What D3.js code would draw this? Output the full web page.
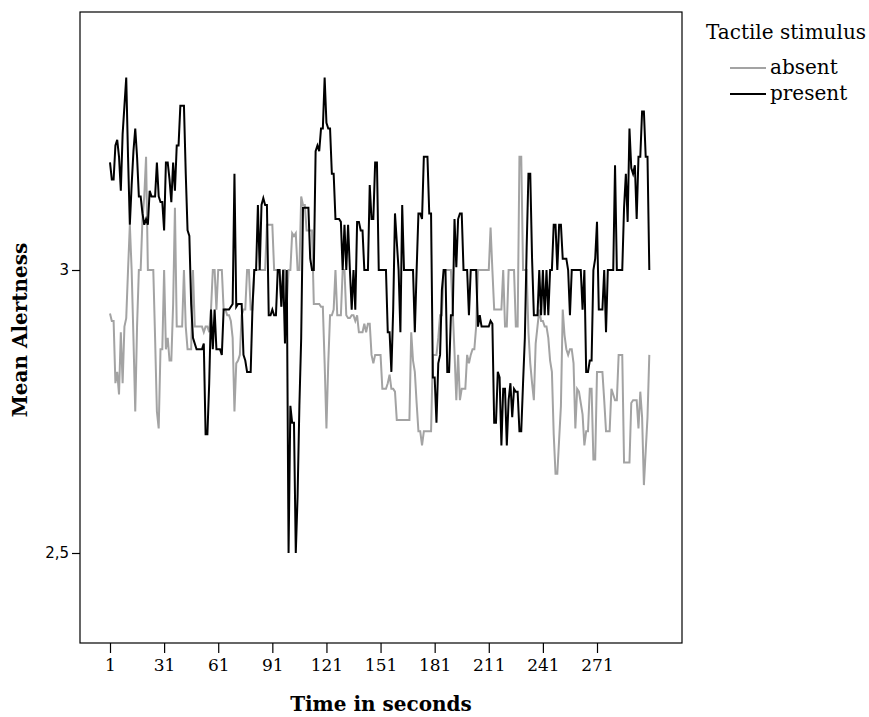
<!DOCTYPE html>
<html>
<head>
<meta charset="utf-8">
<script src="https://cdn.jsdelivr.net/npm/d3@7"></script>
<style>
  body { margin: 0; background: #fff; }
  text { font-family: "DejaVu Serif", "Liberation Serif", serif; }
</style>
</head>
<body>
<svg id="chart" width="869" height="717"></svg>
<script>
// mean alertness per second
var present = [
  3.19,3.16,3.16,3.22,3.23,3.20,3.14,3.24,3.29,3.34,
  3.20,3.08,3.15,3.21,3.25,3.20,3.13,3.13,3.10,3.08,
  3.09,3.08,3.14,3.13,3.13,3.13,3.19,3.13,3.12,3.12,
  3.07,3.19,3.19,3.16,3.12,3.19,3.14,3.22,3.22,3.29,
  3.29,3.29,3.17,3.07,3.06,2.94,2.88,2.87,2.86,2.86,
  2.86,2.86,2.87,2.71,2.71,2.80,2.93,2.86,2.93,2.86,
  2.86,2.86,2.85,2.93,2.93,2.93,2.93,2.935,2.94,3.17,
  2.935,2.94,2.94,2.94,2.85,2.84,2.82,2.82,2.82,2.935,
  3.0,3.0,3.115,3.0,3.115,3.127,3.115,3.115,2.92,2.92,
  2.93,2.92,2.92,3.0,3.0,2.935,3.0,2.87,3.0,2.5,
  2.76,2.73,2.73,2.5,2.6,2.76,2.88,3.11,3.11,3.11,
  3.11,3.02,3.0,3.0,3.21,3.22,3.21,3.25,3.25,3.34,
  3.26,3.25,3.25,3.17,3.17,3.09,3.09,3.09,3.085,3.0,
  3.08,3.0,3.08,3.0,2.93,3.0,2.93,3.085,3.085,3.07,
  3.07,3.0,3.0,3.0,3.15,3.09,3.09,3.19,3.19,3.0,
  3.0,3.0,3.0,3.0,2.89,2.89,2.82,2.93,3.10,3.05,
  3.0,2.89,3.115,3.0,3.0,3.0,3.0,3.0,3.0,2.89,
  3.0,3.10,3.10,3.09,3.20,3.20,3.20,3.10,3.10,2.81,
  2.81,2.73,2.835,2.85,2.965,3.0,3.0,2.82,2.82,2.92,
  2.92,3.09,3.005,3.09,3.10,3.10,3.0,3.0,3.0,2.92,
  3.0,3.0,3.0,3.0,2.90,2.92,2.90,2.90,2.90,2.90,
  2.90,2.91,2.905,2.73,2.73,2.82,2.81,2.69,2.79,2.79,
  2.69,2.77,2.80,2.74,2.79,2.785,2.785,2.715,2.715,2.80,
  2.88,3.04,3.17,3.17,3.02,2.92,2.92,2.92,3.0,2.92,
  3.0,2.92,3.0,2.92,3.0,3.0,3.08,3.08,3.0,3.08,
  3.08,3.02,3.02,3.02,3.0,2.92,3.0,3.0,3.0,3.0,
  3.0,3.0,2.93,3.0,2.82,2.82,2.84,2.84,3.0,3.02,
  3.085,2.93,2.93,2.93,3.0,2.89,3.0,3.0,3.0,3.0,
  3.185,3.0,3.0,3.0,3.0,3.11,3.17,3.085,3.25,3.18,
  3.17,3.185,3.09,3.20,3.20,3.28,3.28,3.20,3.20,3.0
];

var absent = [
  2.923,2.91,2.91,2.80,2.82,2.78,2.89,2.80,2.90,2.915,
  3.0,3.08,3.0,2.88,2.75,2.90,3.0,3.0,3.09,3.13,
  3.20,3.0,3.0,3.0,3.0,2.88,2.75,2.72,2.86,2.86,
  3.0,2.86,2.88,2.84,2.84,2.94,3.11,2.90,2.90,2.90,
  2.90,3.0,2.90,2.86,2.86,2.86,3.0,2.90,2.90,2.90,
  2.90,2.90,2.89,2.90,2.90,2.89,2.93,3.0,3.0,2.93,
  3.0,3.0,3.0,2.93,2.93,2.92,2.92,2.91,2.88,2.75,
  2.835,2.84,2.85,2.92,2.93,2.93,3.0,3.0,2.93,2.93,
  3.0,3.0,3.0,3.0,3.0,3.0,3.0,3.08,3.08,3.08,
  3.08,3.0,3.0,3.0,3.0,2.935,3.0,3.0,2.94,3.0,
  3.0,3.065,3.06,3.065,3.0,3.0,3.13,3.115,3.115,3.07,
  3.07,3.07,3.07,2.94,2.94,2.94,2.94,2.935,2.935,2.835,
  2.72,2.835,2.92,2.92,2.93,3.0,2.92,2.92,2.92,3.0,
  3.0,2.92,2.915,2.915,2.92,2.92,2.91,2.92,2.89,2.89,
  2.89,2.905,2.89,2.905,2.905,2.85,2.835,2.85,2.85,2.85,
  2.85,2.79,2.79,2.79,2.80,2.815,2.79,2.79,2.785,2.735,
  2.735,2.735,2.735,2.735,2.735,2.735,2.735,2.89,2.84,2.82,
  2.765,2.715,2.715,2.69,2.715,2.715,2.715,2.715,2.715,2.85,
  2.85,2.85,2.88,2.92,2.92,3.0,3.0,3.0,3.0,3.0,
  2.93,2.855,2.77,2.85,2.77,2.79,2.79,2.79,2.85,2.835,
  2.85,2.86,2.86,2.90,3.0,3.0,3.0,3.0,3.0,3.0,
  3.0,3.075,3.0,2.93,2.93,2.93,2.93,2.93,3.0,2.90,
  2.90,3.0,3.0,3.0,3.0,2.90,2.90,3.20,3.20,3.0,
  3.0,3.0,2.89,2.835,2.80,2.77,2.87,2.90,2.93,2.91,
  2.91,2.90,2.90,2.88,2.84,2.82,2.71,2.64,2.64,2.70,
  2.76,2.93,2.885,2.86,2.85,2.86,2.86,2.835,2.72,2.79,
  2.785,2.765,2.745,2.69,2.715,2.715,2.79,2.79,2.665,2.665,
  2.82,2.82,2.82,2.82,2.77,2.715,2.715,2.715,2.79,2.78,
  2.77,2.77,2.85,2.85,2.85,2.66,2.66,2.66,2.66,2.765,
  2.77,2.77,2.77,2.72,2.785,2.74,2.62,2.68,2.74,2.85
];

var xTicks = [1, 31, 61, 91, 121, 151, 181, 211, 241, 271];
var yTicks = [2.5, 3];
var seriesNames = ["absent", "present"];
var seriesColors = ["#a3a3a3", "#000000"];

var svg = d3.select("#chart");
var frameL = 80, frameR = 682, frameT = 12, frameB = 643;

// scales: tick 1 -> 110, tick 271 -> 597 ; 3 -> 270, 2.5 -> 553
var x = d3.scaleLinear().domain([1, 271]).range([110, 597]);
var y = d3.scaleLinear().domain([2.5, 3]).range([553, 270]);

var line = d3.line()
  .x((d, i) => x(i + 1))
  .y(d => y(d));

var plot = svg.append("g");

[absent, present].forEach(function(s, k) {
  plot.append("path")
    .datum(s)
    .attr("fill", "none")
    .attr("stroke", seriesColors[k])
    .attr("stroke-width", 2)
    .attr("d", line);
});

// frame
svg.append("rect")
  .attr("x", frameL).attr("y", frameT)
  .attr("width", frameR - frameL).attr("height", frameB - frameT)
  .attr("fill", "none").attr("stroke", "#000").attr("stroke-width", 1.2);

var xAxis = svg.append("g")
  .attr("transform", "translate(0," + frameB + ")")
  .call(d3.axisBottom(x).tickValues(xTicks).tickSize(10).tickPadding(6).tickFormat(d3.format("d")));
xAxis.select(".domain").remove();
xAxis.selectAll("line").attr("stroke-width", 1.2);
xAxis.selectAll("text").attr("font-size", 17).attr("fill", "#000")
  .style("font-family", "DejaVu Serif");

var yAxis = svg.append("g")
  .attr("transform", "translate(" + frameL + ",0)")
  .call(d3.axisLeft(y).tickValues(yTicks).tickSize(8).tickPadding(3)
    .tickFormat(d => String(d).replace(".", ",")));
yAxis.select(".domain").remove();
yAxis.selectAll("line").attr("stroke-width", 1.2);
yAxis.selectAll("text").attr("font-size", 15).attr("fill", "#000")
  .style("font-family", "DejaVu Sans");

svg.append("text")
  .attr("x", 381).attr("y", 711)
  .attr("text-anchor", "middle")
  .attr("font-size", 20).attr("font-weight", "bold")
  .text("Time in seconds");

svg.append("text")
  .attr("transform", "translate(27,330) rotate(-90)")
  .attr("text-anchor", "middle")
  .attr("font-size", 20).attr("font-weight", "bold")
  .text("Mean Alertness");

// legend
var legend = svg.append("g");
legend.append("text")
  .attr("x", 706).attr("y", 39)
  .attr("font-size", 20)
  .text("Tactile stimulus");

seriesNames.forEach(function(name, k) {
  var ly = 68 + k * 26;
  legend.append("line")
    .attr("x1", 730).attr("x2", 766)
    .attr("y1", ly).attr("y2", ly)
    .attr("stroke", seriesColors[k]).attr("stroke-width", 2);
  legend.append("text")
    .attr("x", 770).attr("y", ly + 6)
    .attr("font-size", 20)
    .text(name);
});
</script>
</body>
</html>
